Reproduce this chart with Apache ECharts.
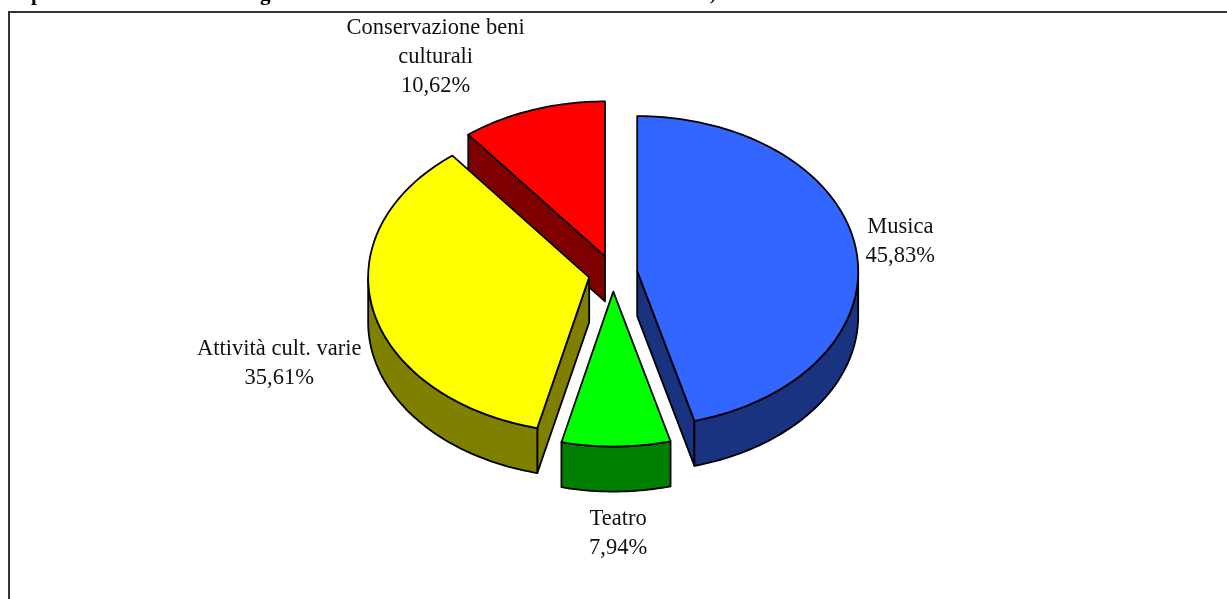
<!DOCTYPE html>
<html>
<head>
	<meta charset="utf-8"/>
	<title>Torta</title>
	<style>
		* {
			margin: 0;
			padding: 0;
		}
		html, body {
			background: #fff;
			overflow: hidden;
		}
	</style>
</head>
<body>

	<div style="width: 1227px;height:599px;" id="myChart"></div>

	<script src="https://cdn.jsdelivr.net/npm/echarts@6/dist/echarts.min.js"></script>
	<script>
		// data, clockwise from 12 o'clock
		var categories = ['Musica', 'Teatro', 'Attività cult. varie', 'Conservazione beni\nculturali'];
		var values = [45.83, 7.94, 35.61, 10.62];

		// look
		var topColors = ['#3366ff', '#00ff00', '#ffff00', '#ff0000'];
		var sideColors = ['#1a3380', '#008000', '#808000', '#800000'];
		var labelShift = [[44, -9.6], [2, 86.6], [-94, 52.8], [-97, -53]];	// from rim point at mid angle
		var font = '22.5px "Liberation Serif", serif';
		var titleFont = 'bold 21px "Liberation Serif", serif';

		// tilted pie
		var cx = 613, cy = 273.5;
		var rx = 221, ry = 155;
		var depth = 45;
		var explode = 24.4;
		var explodeTilt = 0.74;

		var total = values.reduce(function (a, b) { return a + b; }, 0);
		var slices = [];
		var sum = 0;
		values.forEach(function (v, i) {
			var start = sum / total * 2 * Math.PI;
			sum += v;
			var end = sum / total * 2 * Math.PI;
			var mid = (start + end) / 2;
			slices.push({
				index: i,
				start: start,
				end: end,
				mid: mid,
				x: cx + explode * Math.sin(mid),
				y: cy - explode * explodeTilt * Math.cos(mid)
			});
		});
		// back to front
		slices.sort(function (a, b) { return a.y - b.y; });

		function rim(s, a, drop) {
			return [s.x + rx * Math.sin(a), s.y - ry * Math.cos(a) + (drop || 0)];
		}

		function arc(s, from, to, drop) {
			var pts = [];
			var n = Math.max(2, Math.ceil((to - from) / 0.02));
			for (var k = 0; k <= n; k++) {
				pts.push(rim(s, from + (to - from) * k / n, drop));
			}
			return pts;
		}

		function poly(points, fill) {
			return {
				type: 'polygon',
				shape: { points: points },
				style: { fill: fill, stroke: '#000', lineWidth: 1.8, lineJoin: 'round' }
			};
		}

		function radialFace(s, a, fill) {
			var p = rim(s, a);
			return poly([[s.x, s.y], p, [p[0], p[1] + depth], [s.x, s.y + depth]], fill);
		}

		function renderSlice(params) {
			var s = slices[params.dataIndex];
			var side = sideColors[s.index];
			var children = [];

			// cut faces, only those turned to the viewer
			if (Math.sin(s.start) < 0) children.push(radialFace(s, s.start, side));
			if (Math.sin(s.end) > 0) children.push(radialFace(s, s.end, side));

			// outer wall, only the front half shows
			var from = Math.max(s.start, Math.PI / 2);
			var to = Math.min(s.end, Math.PI * 3 / 2);
			if (to > from) {
				children.push(poly(arc(s, from, to).concat(arc(s, from, to, depth).reverse()), side));
			}

			children.push(poly([[s.x, s.y]].concat(arc(s, s.start, s.end)), topColors[s.index]));

			var anchor = rim(s, s.mid);
			var shift = labelShift[s.index];
			children.push({
				type: 'text',
				style: {
					text: categories[s.index] + '\n' + values[s.index].toFixed(2).replace('.', ',') + '%',
					x: anchor[0] + shift[0],
					y: anchor[1] + shift[1],
					align: 'center',
					verticalAlign: 'middle',
					font: font,
					lineHeight: 29,
					fill: '#111'
				}
			});
			return { type: 'group', children: children };
		}

		var myChart = echarts.init(document.getElementById('myChart'));

		var option = {
			animation: false,
			backgroundColor: '#fff',
			graphic: [
				{
					type: 'rect',
					shape: { x: 9, y: 12, width: 1400, height: 800 },
					style: { fill: 'none', stroke: '#333', lineWidth: 2 },
					silent: true
				},
				// title is cut by the top edge of the picture, only these show
				{ type: 'text', style: { text: 'p', x: 31, y: -16, font: titleFont, fill: '#000' } },
				{ type: 'text', style: { text: 'g', x: 260, y: -16, font: titleFont, fill: '#000' } },
				{ type: 'text', style: { text: ',', x: 710, y: -16, font: titleFont, fill: '#000' } }
			],
			series: [
				{
					type: 'custom',
					coordinateSystem: 'none',
					renderItem: renderSlice,
					data: slices.map(function (s) { return values[s.index]; })
				}
			]
		};

		myChart.setOption(option);
	</script>
</body>
</html>
